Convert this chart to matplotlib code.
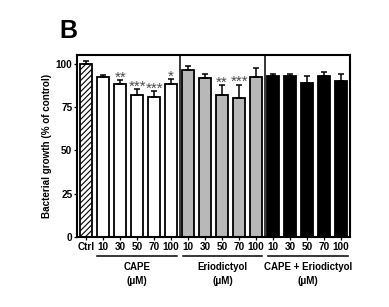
import numpy as np
import matplotlib.pyplot as plt

plt.rcParams['font.family'] = ['Liberation Sans', 'DejaVu Sans']
plt.rcParams['hatch.linewidth'] = 0.8

labels = ["Ctrl", "10", "30", "50", "70", "100", "10", "30", "50", "70", "100",
          "10", "30", "50", "70", "100"]
growth = [100, 92.3, 88.4, 82.1, 80.9, 88.4,
          96.2, 91.6, 81.7, 80.0, 92.1,
          93.1, 92.7, 89.0, 92.7, 90.0]
sem = [1.4, 1.3, 2.0, 3.0, 3.3, 2.6,
       2.3, 2.4, 5.8, 7.9, 5.4,
       1.2, 1.5, 4.1, 2.7, 4.2]
stars = ["", "", "**", "***", "***", "*",
         "", "", "**", "***", "",
         "", "", "", "", ""]
colors = ["white"] * 6 + ["#b8b8b8"] * 5 + ["black"] * 5
groups = ["CAPE\n(\u03bcM)", "Eriodictyol\n(\u03bcM)", "CAPE + Eriodictyol\n(\u03bcM)"]

fig = plt.figure(figsize=(3.89, 3.07), dpi=100)
ax = fig.add_axes([0.1987, 0.228, 0.701, 0.593])

x = np.arange(len(growth))
bars = ax.bar(x, growth, width=0.7, color=colors, edgecolor="black", linewidth=1.3, zorder=2)
bars[0].set_hatch("//////")
ax.errorbar(x, growth, yerr=[np.zeros(len(sem)), sem], fmt="none", ecolor="black",
            elinewidth=1.1, capsize=2.5, capthick=1.1, zorder=3)

for xi, g, e, s in zip(x, growth, sem, stars):
    if s:
        ax.text(xi, g + e - 2.6, s, ha="center", va="bottom", fontsize=11,
                color="#4a4a4a")

for d in [5.5, 10.5]:
    ax.axvline(d, color="black", linewidth=1.1, zorder=1)

ax.set_xlim(-0.53, 15.53)
ax.set_ylim(0, 105)
ax.set_yticks([0, 25, 50, 75, 100])
ax.set_xticks(x)
ax.set_xticklabels(labels)
ax.tick_params(axis="both", labelsize=7.2, length=2, width=0.9, pad=1.5)
for t in ax.get_xticklabels() + ax.get_yticklabels():
    t.set_fontweight("bold")
for sp in ax.spines.values():
    sp.set_linewidth(1.5)
ax.set_ylabel("Bacterial growth (% of control)", fontsize=7.1, fontweight="bold", labelpad=3)

trans = ax.get_xaxis_transform()
spans = [(0.65, 5.35), (5.7, 10.35), (10.7, 15.4)]
for (a, b), name in zip(spans, groups):
    ax.plot([a, b], [-0.103, -0.103], color="black", linewidth=1.1, transform=trans, clip_on=False)
    ax.text((a + b) / 2, -0.135, name, transform=trans, ha="center", va="top",
            fontsize=7.0, fontweight="bold", linespacing=1.5)

fig.text(0.152, 0.877, "B", fontsize=18, fontweight="bold", va="baseline")

fig.savefig("out.png", dpi=100)
